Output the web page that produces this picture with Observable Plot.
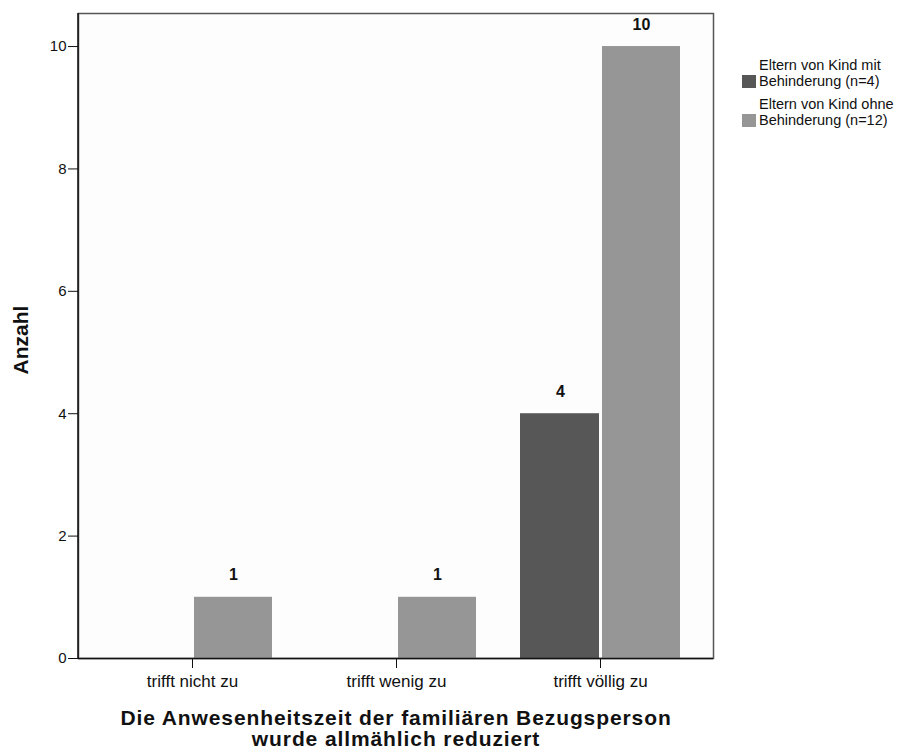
<!DOCTYPE html>
<html>
<head>
<meta charset="utf-8">
<script src="https://cdn.jsdelivr.net/npm/d3@7"></script>
<script src="https://cdn.jsdelivr.net/npm/@observablehq/plot@0.6"></script>
<style>
  html, body { margin: 0; padding: 0; background: #ffffff; }
  #wrap { position: relative; width: 916px; height: 751px; font-family: "Liberation Sans", Arial, sans-serif; }
  #legend { position: absolute; left: 742px; top: 57px; font-size: 14.5px; line-height: 16px; color: #111; }
  .item { display: flex; align-items: flex-start; margin-bottom: 7px; }
  .sw { width: 14px; height: 13px; margin-right: 3px; margin-top: 18px; flex: none; }
</style>
</head>
<body>
<div id="wrap">
  <div id="chart"></div>
  <div id="legend"></div>
</div>
<script>
const categories = ["trifft nicht zu", "trifft wenig zu", "trifft völlig zu"];
const groups = ["Eltern von Kind mit Behinderung (n=4)", "Eltern von Kind ohne Behinderung (n=12)"];
const legendLines = [["Eltern von Kind mit", "Behinderung (n=4)"], ["Eltern von Kind ohne", "Behinderung (n=12)"]];
const withDisability = [0, 0, 4];
const withoutDisability = [1, 1, 10];
const colors = ["#575757", "#969696"];
const yTicks = [0, 2, 4, 6, 8, 10];

const data = [];
categories.forEach((c, i) => {
  if (withDisability[i] > 0) data.push({category: c, group: groups[0], value: withDisability[i]});
  if (withoutDisability[i] > 0) data.push({category: c, group: groups[1], value: withoutDisability[i]});
});
const dataA = data.filter(d => d.group === groups[0]);
const dataB = data.filter(d => d.group === groups[1]);

const chart = Plot.plot({
  width: 916,
  height: 751,
  marginLeft: 78,
  marginRight: 203,
  marginTop: 13,
  marginBottom: 93,
  style: {fontFamily: "'Liberation Sans', Arial, sans-serif", fontSize: "15px", color: "#111", background: "#ffffff"},
  x: {domain: categories, paddingInner: 0.216, paddingOuter: 0.164, label: null},
  y: {domain: [0, 10.54], label: null},
  marks: [
    Plot.frame({fill: "#fdfdfd", stroke: "#555", strokeWidth: 1.5}),
    Plot.barY(dataA, {x: "category", y: "value", fill: colors[0], insetLeft: 0, insetRight: 81}),
    Plot.barY(dataB, {x: "category", y: "value", fill: colors[1], insetLeft: 82, insetRight: 0}),
    Plot.text(dataA, {x: "category", y: "value", text: d => String(d.value), dx: -40, dy: -22, fontWeight: "bold", fontSize: 16, fill: "#111"}),
    Plot.text(dataB, {x: "category", y: "value", text: d => String(d.value), dx: 41, dy: -22, fontWeight: "bold", fontSize: 16, fill: "#111"}),
    Plot.axisY({ticks: yTicks, tickSize: 10, tickPadding: 2, fontSize: 15, label: null, stroke: "#111"}),
    Plot.axisX({tickSize: 10, tickPadding: 6, fontSize: 17, label: null, stroke: "#111"}),
    Plot.ruleY([0], {stroke: "#111", strokeWidth: 1.5})
  ]
});
document.getElementById("chart").appendChild(chart);

const svg = d3.select(chart);
svg.append("line").attr("x1", 78).attr("x2", 78).attr("y1", 13).attr("y2", 658).attr("stroke", "#111").attr("stroke-width", 1.5);
svg.append("text").attr("transform", "translate(28,340) rotate(-90)").attr("text-anchor", "middle")
  .attr("font-weight", "bold").attr("font-size", 21).attr("fill", "#111").text("Anzahl");
svg.append("text").attr("x", 396).attr("y", 725).attr("text-anchor", "middle").attr("letter-spacing", 0.9)
  .attr("font-weight", "bold").attr("font-size", 21).attr("fill", "#111").text("Die Anwesenheitszeit der familiären Bezugsperson");
svg.append("text").attr("x", 396).attr("y", 746).attr("text-anchor", "middle").attr("letter-spacing", 0.9)
  .attr("font-weight", "bold").attr("font-size", 21).attr("fill", "#111").text("wurde allmählich reduziert");

const leg = document.getElementById("legend");
legendLines.forEach((lines, i) => {
  const item = document.createElement("div");
  item.className = "item";
  const sw = document.createElement("div");
  sw.className = "sw";
  sw.style.background = colors[i];
  const t = document.createElement("div");
  t.innerHTML = lines.join("<br>");
  item.appendChild(sw);
  item.appendChild(t);
  leg.appendChild(item);
});
</script>
</body>
</html>
